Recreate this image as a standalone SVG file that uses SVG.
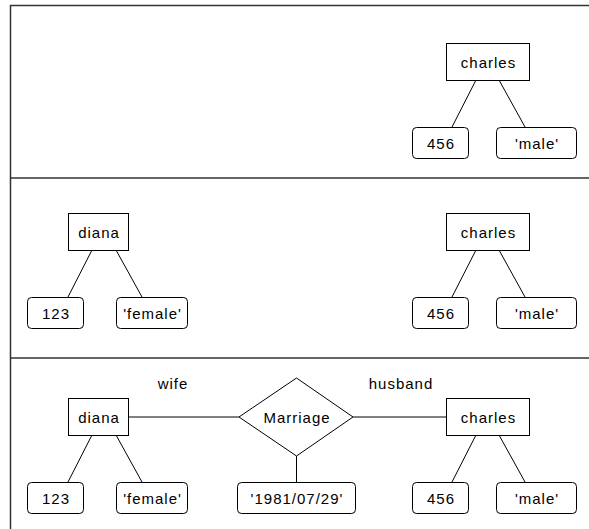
<svg xmlns="http://www.w3.org/2000/svg" width="589" height="529" viewBox="0 0 589 529">
  <style>
    .frame { stroke: #333; stroke-width: 1.5; fill: none; }
    .entity { fill: #fff; stroke: #000; stroke-width: 1; }
    .attr { fill: #fff; stroke: #000; stroke-width: 1; }
    .rel { fill: #fff; stroke: #000; stroke-width: 1; }
    .link { stroke: #000; stroke-width: 1; fill: none; }
    text { font-family: "Liberation Sans", Arial, sans-serif; font-size: 15px; letter-spacing: 1px; fill: #000; text-anchor: middle; }
  </style>
  <rect width="589" height="529" fill="#fff"/>

  <!-- panel frame -->
  <g id="frame">
    <path class="frame" d="M589 5.5 H10.5 V529"/>
    <path class="frame" d="M10.5 178 H589"/>
    <path class="frame" d="M10.5 358 H589"/>
  </g>

  <!-- connectors -->
  <g id="connectors">
    <!-- panel 1 -->
    <path class="link" d="M476 80 L452 127 M499 80 L525 127"/>
    <!-- panel 2 -->
    <path class="link" d="M92 250 L68 297 M116 250 L142 297"/>
    <path class="link" d="M476 250 L452 297 M499 250 L525 297"/>
    <!-- panel 3 -->
    <path class="link" d="M92 435 L68 482 M116 435 L142 482"/>
    <path class="link" d="M476 435 L452 482 M499 435 L525 482"/>
    <path class="link" d="M128 417 H239 M353 417 H446 M296.5 456 V482"/>
  </g>

  <!-- panel 1 -->
  <g id="p1-charles"><rect class="entity" x="446.5" y="43.5" width="83" height="37"/><text x="488.5" y="67.5">charles</text></g>
  <g id="p1-charles-id"><rect class="attr" x="412.5" y="127.5" width="56" height="31" rx="4"/><text x="441" y="148.5">456</text></g>
  <g id="p1-charles-sex"><rect class="attr" x="496.5" y="127.5" width="80" height="31" rx="4"/><text x="537" y="148.5">'male'</text></g>

  <!-- panel 2 -->
  <g id="p2-diana"><rect class="entity" x="68.5" y="213.5" width="60" height="37"/><text x="99" y="237.5">diana</text></g>
  <g id="p2-diana-id"><rect class="attr" x="27.5" y="297.5" width="56" height="31" rx="4"/><text x="56" y="318.5">123</text></g>
  <g id="p2-diana-sex"><rect class="attr" x="116.5" y="297.5" width="71" height="31" rx="4"/><text x="152.5" y="318.5">'female'</text></g>
  <g id="p2-charles"><rect class="entity" x="446.5" y="213.5" width="83" height="37"/><text x="488.5" y="237.5">charles</text></g>
  <g id="p2-charles-id"><rect class="attr" x="412.5" y="297.5" width="56" height="31" rx="4"/><text x="441" y="318.5">456</text></g>
  <g id="p2-charles-sex"><rect class="attr" x="496.5" y="297.5" width="80" height="31" rx="4"/><text x="537" y="318.5">'male'</text></g>

  <!-- panel 3 -->
  <g id="p3-diana"><rect class="entity" x="68.5" y="398.5" width="60" height="37"/><text x="99" y="422.5">diana</text></g>
  <g id="p3-diana-id"><rect class="attr" x="27.5" y="482.5" width="56" height="31" rx="4"/><text x="56" y="503.5">123</text></g>
  <g id="p3-diana-sex"><rect class="attr" x="116.5" y="482.5" width="71" height="31" rx="4"/><text x="152.5" y="503.5">'female'</text></g>
  <g id="p3-marriage"><polygon class="rel" points="239,417 296.5,378 353,417 296.5,456"/><text x="297" y="423">Marriage</text></g>
  <g id="p3-marriage-date"><rect class="attr" x="237.5" y="482.5" width="118" height="31" rx="4"/><text x="297" y="503.5">'1981/07/29'</text></g>
  <g id="p3-charles"><rect class="entity" x="446.5" y="398.5" width="83" height="37"/><text x="488.5" y="422.5">charles</text></g>
  <g id="p3-charles-id"><rect class="attr" x="412.5" y="482.5" width="56" height="31" rx="4"/><text x="441" y="503.5">456</text></g>
  <g id="p3-charles-sex"><rect class="attr" x="496.5" y="482.5" width="80" height="31" rx="4"/><text x="537" y="503.5">'male'</text></g>
  <g id="p3-role-wife"><text x="173" y="389">wife</text></g>
  <g id="p3-role-husband"><text x="401" y="389">husband</text></g>
</svg>
